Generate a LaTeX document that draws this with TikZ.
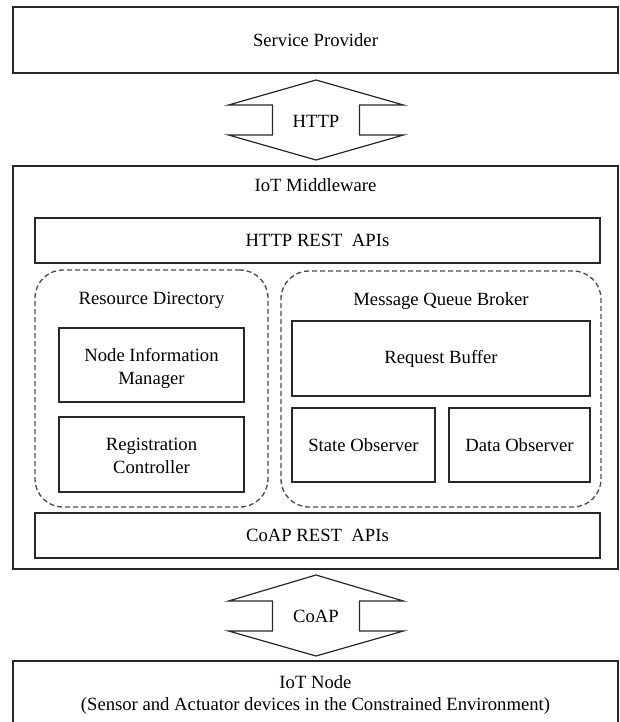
\documentclass[tikz,border=0pt]{standalone}
\usepackage{fontspec}
\setmainfont{Liberation Serif}
\usetikzlibrary{fit}
\definecolor{edgec}{RGB}{40,40,40}
\definecolor{dashc}{RGB}{75,75,75}
\begin{document}
\begin{tikzpicture}[x=0.75pt,y=-0.75pt,
  every node/.style={font=\fontsize{14}{17.2}\selectfont, text=black},
  box/.style={draw=edgec, line width=1.1pt, inner sep=0pt},
  caption/.style={align=center, inner sep=0pt},
  group/.style={draw=dashc, line width=1pt, dash pattern=on 3.75pt off 2.25pt,
                rounded corners=21pt, inner sep=0pt},
  blockarrow/.style={draw=edgec, line width=0.9pt, line join=miter}]
\useasboundingbox (0,0) rectangle (620,722);
\clip (0,0) rectangle (620,722);

% top level: service provider
\node[box, fit={(13,7) (618,73)}] (sp) {};
\node[caption] (splabel) at (sp.center) {Service Provider};

% HTTP double block arrow
\node[caption] (http) at (316,121) {HTTP};
\draw[blockarrow] ([shift={(0,-41)}]http.center)
  -- ([shift={(87.5,-16)}]http.center) -- ([shift={(43.5,-16)}]http.center)
  -- ([shift={(43.5,14)}]http.center) -- ([shift={(87.5,14)}]http.center)
  -- ([shift={(0,39)}]http.center)
  -- ([shift={(-87.5,14)}]http.center) -- ([shift={(-43.5,14)}]http.center)
  -- ([shift={(-43.5,-16)}]http.center) -- ([shift={(-87.5,-16)}]http.center)
  -- cycle;

% middleware container
\node[box, fit={(13,166) (618,569)}] (mw) {};
\node[caption] (mwlabel) at (315.5,185) {IoT Middleware};

\node[box, fit={(35,218) (600,263)}] (httprest) {};
\node[caption] (httprestlabel) at (httprest.center) {HTTP REST\ \ APIs};

% resource directory
\node[group, fit={(35,270) (268,507)}] (rd) {};
\node[caption] (rdlabel) at (151.5,300) {Resource Directory};
\node[box, fit={(59,328) (244,402)}] (nim) {};
\node[caption] (nimlabel) at ([yshift=-2.5pt]nim.center) {Node Information\\Manager};
\node[box, fit={(59,417) (244,492)}] (rc) {};
\node[caption] (rclabel) at ([yshift=-0.8pt]rc.center) {Registration\\Controller};

% message queue broker
\node[group, fit={(281,271) (601,507)}] (mqb) {};
\node[caption] (mqblabel) at (441,301) {Message Queue Broker};
\node[box, fit={(292,321) (590,396)}] (rb) {};
\node[caption] (rblabel) at (rb.center) {Request Buffer};
\node[box, fit={(292,408) (435,482)}] (so) {};
\node[caption] (solabel) at (so.center) {State Observer};
\node[box, fit={(449,408) (590,482)}] (do) {};
\node[caption] (dolabel) at (do.center) {Data Observer};

\node[box, fit={(35,513) (600,558)}] (coaprest) {};
\node[caption] (coaprestlabel) at (coaprest.center) {CoAP REST\ \ APIs};

% CoAP double block arrow
\node[caption] (coap) at (316,616) {CoAP};
\draw[blockarrow] ([shift={(0,-41)}]coap.center)
  -- ([shift={(87.5,-15)}]coap.center) -- ([shift={(43.5,-15)}]coap.center)
  -- ([shift={(43.5,15)}]coap.center) -- ([shift={(87.5,15)}]coap.center)
  -- ([shift={(0,40)}]coap.center)
  -- ([shift={(-87.5,15)}]coap.center) -- ([shift={(-43.5,15)}]coap.center)
  -- ([shift={(-43.5,-15)}]coap.center) -- ([shift={(-87.5,-15)}]coap.center)
  -- cycle;

% constrained devices
\node[box, fit={(13,661) (618,740)}] (iotnode) {};
\node[caption, font=\fontsize{14}{16.5}\selectfont] (iotnodelabel) at (315.5,695)
  {IoT Node\\(Sensor and Actuator devices in the Constrained Environment)};
\end{tikzpicture}
\end{document}
